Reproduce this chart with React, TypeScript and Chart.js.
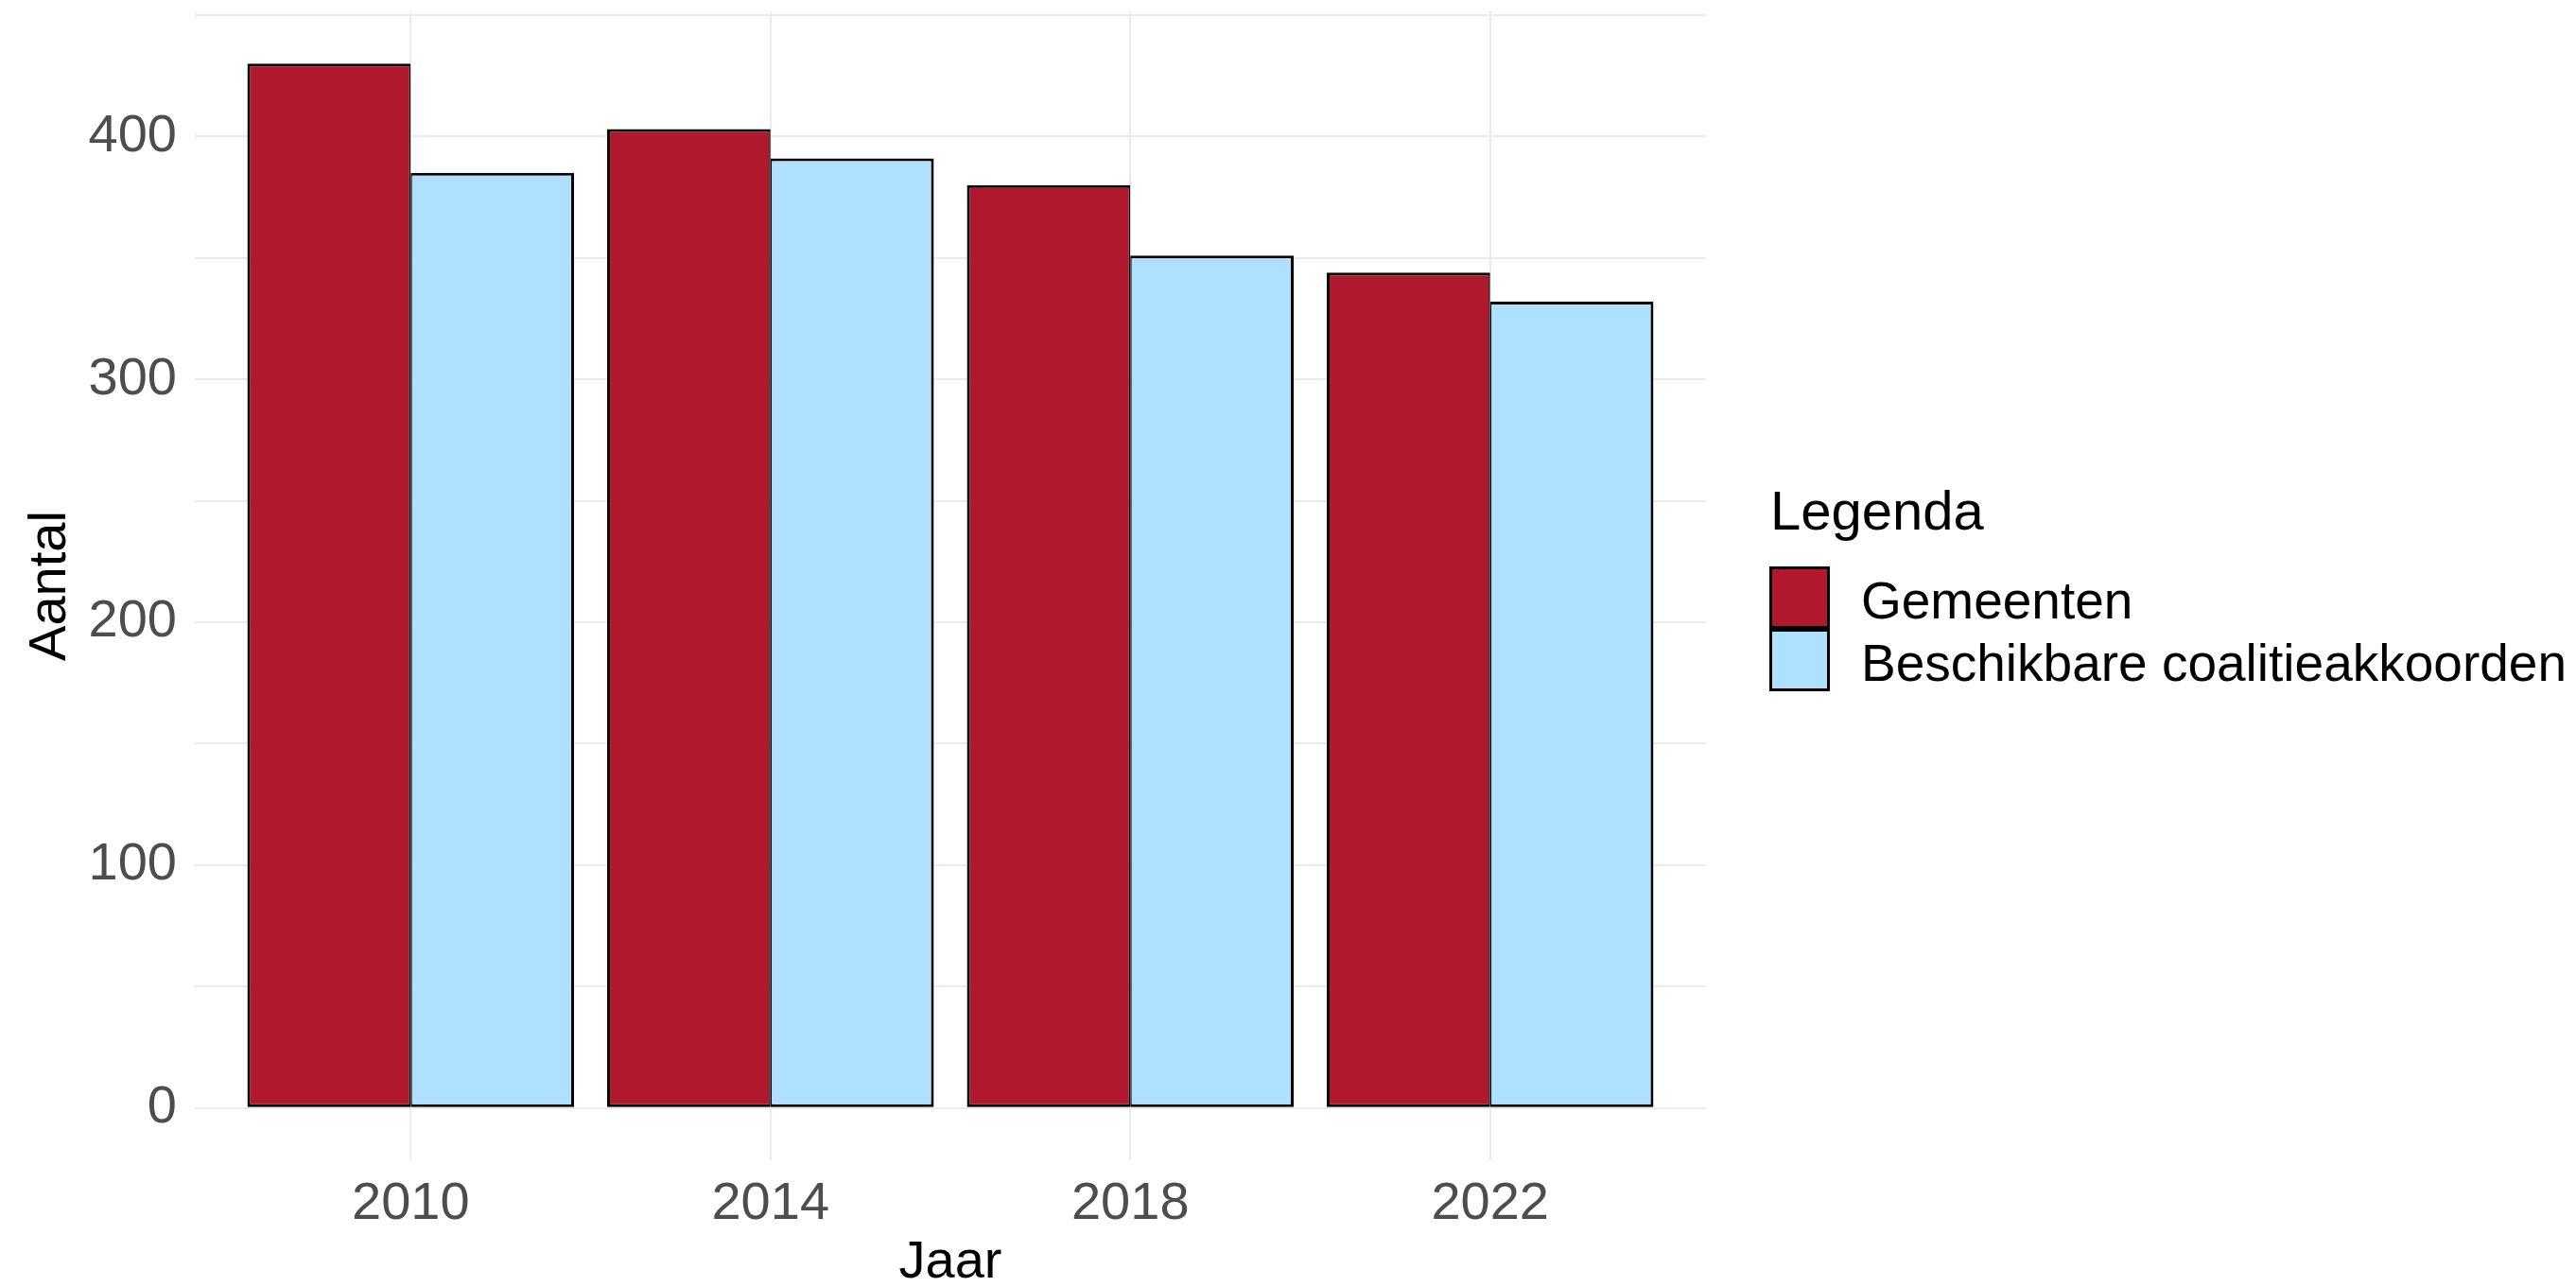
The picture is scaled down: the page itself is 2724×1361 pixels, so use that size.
import React, { useEffect, useRef } from 'react';
import { Chart, registerables } from 'chart.js';

Chart.register(...registerables);

// ---- data ----
const years = ['2010', '2014', '2018', '2022'];
const gemeenten = [430, 403, 380, 344];
const coalitieakkoorden = [385, 391, 351, 332];
const seriesNames = ['Gemeenten', 'Beschikbare coalitieakkoorden'];
const yGridValues = [0, 50, 100, 150, 200, 250, 300, 350, 400, 450];
const yLabelValues = [0, 100, 200, 300, 400];
const xTitle = 'Jaar';
const yTitle = 'Aantal';
const legendTitle = 'Legenda';

const FONT = '"Liberation Sans", Arial, Helvetica, sans-serif';
const RED = '#B0182D';
const BLUE = '#B0E0FF';
const GRID = '#EBEBEB';

export default function App() {
  const ref = useRef<HTMLCanvasElement | null>(null);

  useEffect(() => {
    if (!ref.current) return;
    const maxVal = Math.max(...gemeenten, ...coalitieakkoorden);
    const pad = maxVal * 0.05;

    const legendPlugin = {
      id: 'ggLegend',
      afterDraw(chart: any) {
        const ctx = chart.ctx as CanvasRenderingContext2D;
        const area = chart.chartArea;
        const left = area.right + 67;
        const titleBaseline = 560;
        const keyTop = 599;
        const keyW = 64;
        const keyH = 66;
        ctx.save();
        ctx.textAlign = 'left';
        ctx.textBaseline = 'alphabetic';
        ctx.fillStyle = '#000';
        ctx.font = `58px ${FONT}`;
        ctx.fillText(legendTitle, left + 1, titleBaseline);
        chart.data.datasets.forEach((ds: any, i: number) => {
          const y = keyTop + i * keyH;
          ctx.fillStyle = ds.backgroundColor;
          ctx.fillRect(left, y, keyW, keyH);
          ctx.lineWidth = 3;
          ctx.strokeStyle = '#000';
          ctx.strokeRect(left + 1.5, y + 1.5, keyW - 3, keyH - 3);
          ctx.fillStyle = '#000';
          ctx.font = `55px ${FONT}`;
          ctx.fillText(ds.label, left + 97, y + keyH / 2 + 22);
        });
        ctx.restore();
      },
    };

    const chart = new Chart(ref.current, {
      type: 'bar',
      data: {
        datasets: [
          {
            label: seriesNames[0],
            data: years.map((_, i) => ({ x: i + 1, y: gemeenten[i] })),
            backgroundColor: RED,
            borderColor: '#000',
            borderWidth: { top: 3, left: 3, right: 1.5, bottom: 3 },
            borderSkipped: false,
            categoryPercentage: 0.908,
            barPercentage: 1,
          },
          {
            label: seriesNames[1],
            data: years.map((_, i) => ({ x: i + 1, y: coalitieakkoorden[i] })),
            backgroundColor: BLUE,
            borderColor: '#000',
            borderWidth: { top: 3, left: 1.5, right: 3, bottom: 3 },
            borderSkipped: false,
            categoryPercentage: 0.908,
            barPercentage: 1,
          },
        ],
      } as any,
      options: {
        animation: false,
        responsive: true,
        maintainAspectRatio: false,
        devicePixelRatio: 1,
        layout: { padding: { top: 12, right: 920, left: 0, bottom: 0 } },
        plugins: {
          legend: { display: false },
          tooltip: { enabled: false },
        },
        scales: {
          x: {
            type: 'linear',
            offset: false,
            min: 0.4,
            max: years.length + 0.6,
            afterBuildTicks: (s: any) => {
              s.ticks = years.map((_, i) => ({ value: i + 1 }));
            },
            afterFit: (s: any) => {
              s.height = 134;
              s.paddingLeft = 0;
              s.paddingRight = 0;
            },
            grid: { color: GRID, lineWidth: 2, drawTicks: false, offset: false },
            border: { display: false },
            ticks: {
              autoSkip: false,
              maxRotation: 0,
              padding: 13,
              color: '#4D4D4D',
              font: { family: FONT, size: 56 },
              callback: (v: any) => years[Math.round(Number(v)) - 1] ?? '',
            },
            title: {
              display: true,
              text: xTitle,
              color: '#000',
              font: { family: FONT, size: 56, lineHeight: 0.9 },
              padding: 0,
            },
          },
          y: {
            type: 'linear',
            min: -pad,
            max: maxVal + pad,
            afterBuildTicks: (s: any) => {
              s.ticks = yGridValues.map((v) => ({ value: v }));
            },
            afterFit: (s: any) => {
              s.width = 206;
              s.paddingTop = 0;
              s.paddingBottom = 0;
            },
            grid: { color: GRID, lineWidth: 2, drawTicks: false },
            border: { display: false },
            ticks: {
              padding: 19,
              color: '#4D4D4D',
              font: { family: FONT, size: 56 },
              callback: (v: any) => (yLabelValues.includes(Number(v)) ? String(v) : ''),
            },
            title: {
              display: true,
              text: yTitle,
              color: '#000',
              font: { family: FONT, size: 56, lineHeight: 0.9 },
              padding: { top: 28, bottom: 0 },
            },
          },
        },
      } as any,
      plugins: [legendPlugin],
    });

    return () => chart.destroy();
  }, []);

  return (
    <div style={{ position: 'fixed', left: 0, top: 0, width: '100vw', height: '100vh', background: '#fff' }}>
      <canvas ref={ref} />
    </div>
  );
}
